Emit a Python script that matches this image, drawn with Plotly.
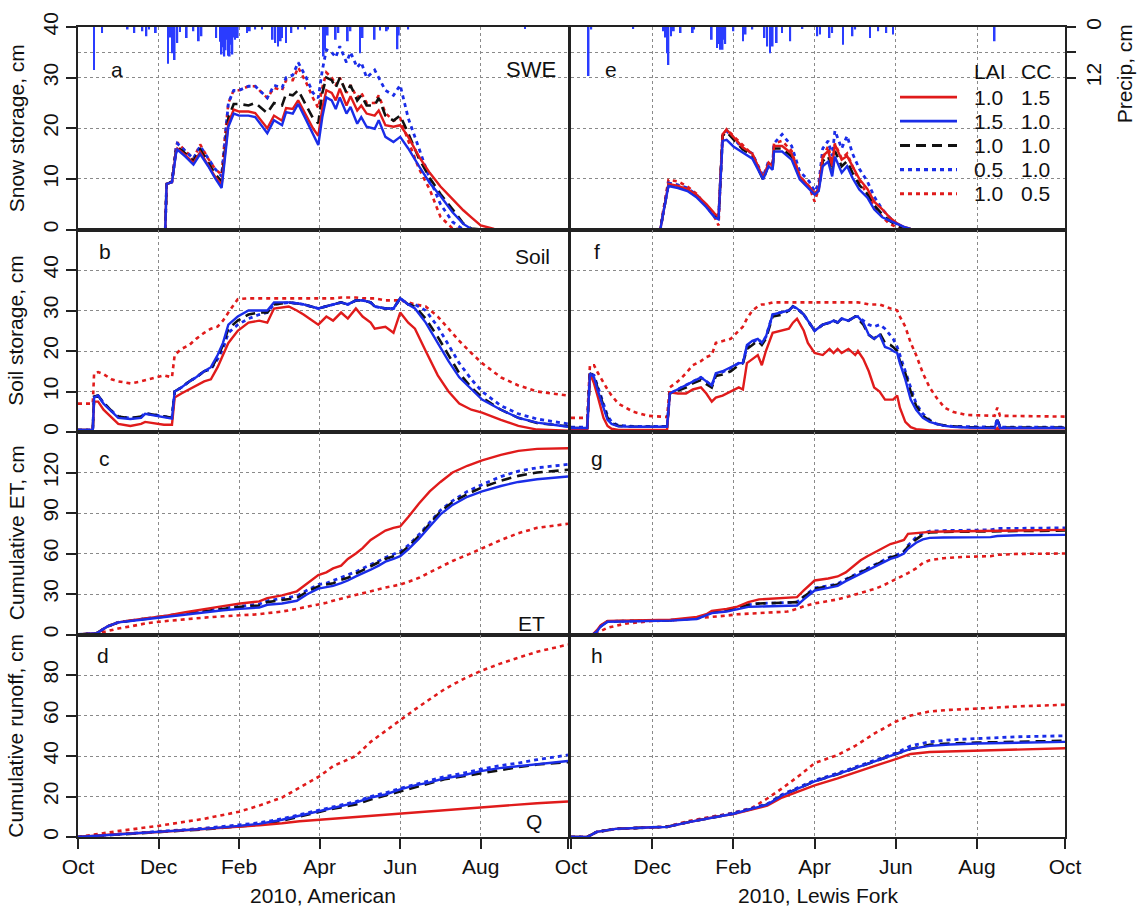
import plotly.graph_objects as go

FONT = "Liberation Sans, Arial, Helvetica, sans-serif"
RED = "#e01b1b"
BLUE = "#1a2de8"
BLACK = "#111111"
PRECIP_BLUE = "#2a3cff"

# x axis: day of water year 2010 (Oct 1 2009 = 0)
month_ticks = [0, 60, 120, 180, 240, 300, 365]
month_labels = ["Oct", "Dec", "Feb", "Apr", "Jun", "Aug", "Oct"]

# scenario parameters (LAI, CC) for each series
series_keys = ["rs", "bs", "bk", "bd", "rd"]
series_lai = ["1.0", "1.5", "1.0", "0.5", "1.0"]
series_cc = ["1.5", "1.0", "1.0", "1.0", "0.5"]

# ---------------- precipitation (cm/day) ----------------
am_precip_day = [12, 18, 37, 42, 48, 51, 53, 58, 67, 69, 70, 72, 74, 76, 81, 86, 90, 92, 103, 106, 107, 108, 109,
                 110, 111, 112, 113, 114, 115, 116, 117, 119, 126, 128, 132, 137, 145, 147, 149, 151, 152, 155, 159,
                 164, 169, 183, 184, 186, 192, 194, 201, 203, 210, 212, 221, 225, 230, 231, 238, 239, 246, 333]
am_precip_cm = [10.2, 1.4, 0.6, 1.4, 1.0, 2.2, 0.6, 1.4, 8.7, 2.5, 6.2, 7.8, 3.8, 1.2, 2.6, 1.0, 3.4, 2.2, 2.6, 3.5,
                6.5, 4.8, 7.0, 5.5, 3.0, 6.8, 7.0, 4.2, 6.5, 2.5, 3.0, 2.6, 1.4, 1.0, 0.6, 0.6, 3.0, 3.8, 4.6, 3.4,
                2.6, 3.8, 1.4, 0.6, 0.6, 7.0, 5.4, 2.0, 3.0, 1.4, 3.4, 1.0, 6.2, 2.6, 3.0, 0.8, 1.0, 0.6, 5.3, 2.0,
                0.6, 0.3]
lf_precip_day = [13, 15, 46, 68, 70, 71, 72, 74, 76, 81, 90, 91, 104, 108, 109, 110, 111, 112, 113, 114, 120, 127,
                 129, 134, 143, 145, 147, 149, 152, 156, 162, 171, 182, 184, 191, 193, 201, 208, 210, 221, 227, 233,
                 238, 313]
lf_precip_cm = [11.6, 0.6, 0.3, 1.0, 2.5, 6.2, 9.0, 2.2, 1.0, 1.4, 1.4, 0.6, 3.0, 5.0, 4.0, 5.4, 4.5, 5.4, 3.0, 4.0,
                1.0, 3.4, 1.8, 0.6, 2.6, 4.6, 6.2, 4.6, 3.8, 1.4, 3.4, 0.3, 2.2, 1.8, 2.6, 1.4, 4.2, 2.2, 0.6, 2.6,
                1.0, 1.4, 1.8, 3.4]

# ---------------- (a) SWE, American ----------------
a_days = [0, 65, 66, 70, 73, 74, 80, 86, 91, 97, 102, 107, 109, 112, 116, 120, 127, 132, 141, 146, 152, 155, 160,
          164, 170, 175, 179, 182, 185, 189, 192, 195, 200, 203, 208, 211, 215, 221, 224, 229, 235, 240, 246, 254,
          262, 270, 279, 287, 293, 300, 310, 365]
a_bs = [0, 0, 9, 9.3, 15, 15.8, 14.4, 12.8, 14.9, 12.5, 10.2, 8.2, 13, 20.3, 22.9, 22.5, 22.5, 22.2, 19, 21.6,
        20.6, 23.2, 22.9, 24.8, 21.6, 19, 16.7, 22.2, 26.1, 25.5, 23.8, 26.1, 22.9, 24.2, 20.9, 22.2, 20.3, 19.9,
        21.6, 18.3, 17.3, 18.3, 16, 12.5, 9.2, 6.6, 3.4, 1.1, 0.1, 0, 0, 0]
a_rs = [0, 0, 9, 9.3, 15.2, 16, 14.7, 13.1, 15.3, 12.8, 10.5, 8.8, 13.5, 21, 23.7, 23.3, 23.3, 23, 20, 22.5,
        21.5, 24, 23.8, 25.5, 22.5, 20, 18.5, 24, 27.5, 27, 25.5, 27.8, 24.5, 26.3, 23.5, 24.5, 22.9, 22.5, 23.5,
        20.6, 20.3, 20.6, 18.3, 14.4, 11.2, 8.5, 6, 3.8, 2.4, 0.8, 0.1, 0]
a_bk = [0, 0, 9, 9.4, 15.5, 16.3, 15, 13.5, 15.8, 13.3, 11, 9.5, 15, 22, 24.8, 24.8, 24.5, 25, 23, 25, 24.5,
        26.8, 26.5, 27.5, 24.5, 22, 21, 27, 30, 29.5, 28, 30, 27, 28.5, 25.5, 26.5, 24.5, 24.5, 26, 22.5, 21.5,
        22.5, 19, 14, 10.2, 7, 4, 1.2, 0.2, 0, 0, 0]
a_bd = [0, 0, 9, 9.5, 16, 17, 15.5, 14, 16.5, 14, 12, 10.5, 17, 25, 27.5, 27.5, 28.3, 28.3, 26, 28.5, 28, 30,
        30.5, 33, 30, 27, 26, 31.5, 35.5, 35, 34, 36.2, 33, 35, 32, 33, 30, 31.5, 30, 27.5, 26.5, 28.5, 22, 16,
        10, 5, 1.5, 0, 0, 0, 0, 0]
a_rd = [0, 0, 9, 9.5, 16.2, 17.2, 15.5, 14, 16.8, 14, 12, 10.8, 17, 25, 27.5, 27.5, 28.3, 28.3, 26, 28, 27.5,
        29.5, 29.5, 32, 29, 26, 24, 28, 31, 30, 28.5, 30, 27, 28.5, 26, 27, 25, 25, 26.5, 23, 21.5, 22, 17.5,
        12, 7.9, 2.5, 0.2, 0, 0, 0, 0, 0]

# ---------------- (e) SWE, Lewis Fork ----------------
e_days = [0, 66, 68, 72, 79, 86, 93, 100, 106, 109, 112, 115, 120, 127, 134, 142, 146, 149, 150, 156, 163, 169,
          176, 180, 183, 186, 190, 193, 195, 200, 204, 208, 213, 219, 224, 230, 235, 241, 246, 251, 260, 365]
e_bs = [0, 0, 3, 8.6, 8.2, 7.6, 6.3, 4.4, 2.4, 2, 17.5, 17.7, 16.4, 15.2, 14, 9.9, 12.5, 11.8, 15.4, 15.4, 13.8,
        9.9, 7.9, 6.9, 7.6, 12.5, 13.4, 10.5, 14.4, 11.2, 12.5, 10.2, 7.9, 6.3, 4, 2.4, 1.8, 1.1, 0.5, 0.1, 0, 0]
e_rs = [0, 0, 3, 9, 8.6, 8, 6.8, 5, 3.2, 2.5, 18.8, 19.7, 18.3, 16.2, 15, 10.2, 13.2, 12.5, 16.5, 16.5, 15, 10.5,
        8.5, 7, 8, 14.5, 15.5, 12.5, 16.8, 13.8, 14.5, 12.5, 10, 8, 5.5, 4, 2.5, 1.2, 0.5, 0.1, 0, 0]
e_bk = [0, 0, 3, 8.8, 8.4, 7.8, 6.5, 4.7, 2.8, 2.2, 18.5, 19.3, 17.8, 15.8, 14.6, 9.8, 12.8, 12.2, 16, 16, 14.4,
        10.2, 8.2, 7, 7.8, 13.5, 14.5, 11.5, 15.5, 12.5, 13.5, 11.2, 8.8, 7, 4.8, 3, 1.8, 0.8, 0.2, 0, 0, 0]
e_bd = [0, 0, 3, 9.2, 8.8, 8.2, 6.8, 4.8, 2.8, 2.2, 18.5, 19.5, 18, 16, 15, 10.5, 13.5, 13, 17, 18.8, 16.5, 11.5,
        9.5, 7.5, 9, 16, 17.5, 14.5, 19.5, 16, 18.5, 15, 12, 9.5, 6.5, 4, 2.5, 1, 0.3, 0, 0, 0]
e_rd = [0, 0, 3.5, 9.8, 9.5, 8.5, 7, 4.5, 2.5, 0.8, 18.5, 19.8, 18.5, 16.5, 14.8, 10, 13, 12.8, 17, 17.5, 15.5,
        10.5, 8.5, 5.5, 8, 14, 16.5, 13, 17, 14, 15, 12.5, 9.5, 7, 4.5, 2.5, 1.2, 0.4, 0, 0, 0, 0]

# ---------------- (b) Soil storage, American ----------------
b_days = [0, 11, 12, 15, 19, 25, 30, 39, 47, 50, 58, 64, 70, 72, 77, 83, 88, 94, 99, 104, 108, 112, 119, 127, 135,
          141, 146, 157, 163, 168, 179, 185, 190, 196, 201, 207, 212, 218, 221, 229, 235, 240, 246, 251, 259, 268,
          276, 284, 293, 301, 315, 328, 342, 365]
b_bs = [0.5, 0.5, 8.5, 9, 7, 5, 3.5, 3.2, 3.5, 4.5, 4, 3.5, 3.3, 10, 11, 12.5, 13.5, 15, 16, 19, 22, 26.5, 28.5,
        30, 30, 30, 32, 32, 31.8, 31.5, 30.5, 31, 31.5, 32, 31.5, 32.5, 32.5, 32, 31, 30.5, 30.5, 33, 31.5, 30.5,
        27, 22, 17.5, 13.5, 10.5, 8, 5.5, 3.5, 2.3, 1.3]
b_rs = [0.5, 0.5, 7.5, 7.5, 5.5, 3.5, 2, 1.5, 2, 2.5, 2, 1.8, 1.8, 8.5, 9.5, 10.5, 11.5, 12.5, 13, 16, 19, 22, 25,
        27, 27.5, 27, 30.5, 31, 30, 29, 26.5, 28.5, 27.5, 29.5, 28, 30.5, 28.5, 27, 25.5, 26, 24.5, 29.5, 27, 25.5,
        20, 14, 10, 7, 5.5, 4.8, 3, 1.5, 0.6, 0.3]
b_bk = [0.5, 0.5, 8.7, 9, 7.2, 5.2, 3.8, 3.4, 3.8, 4.6, 4.2, 3.8, 3.5, 10, 11, 12.5, 13.5, 15, 15.5, 18.5, 21.5,
        25.5, 27.5, 29, 29.5, 29.5, 31.5, 32, 31.8, 31.5, 30.5, 31, 31.5, 32, 31.5, 32.5, 32.5, 32, 31, 30.5, 30.5,
        33, 31.5, 31, 28, 23.5, 19, 14.5, 11, 8.5, 5.5, 3.5, 2.2, 1.4]
b_bd = [0.5, 0.5, 8.7, 9, 7.2, 5.2, 3.8, 3.4, 3.8, 4.6, 4.2, 3.8, 3.5, 10, 11, 12.5, 13.5, 15, 15.5, 18, 20.5,
        24.5, 26.5, 28, 29, 29.5, 31.5, 32, 31.8, 31.5, 30.5, 31, 31.5, 32, 31.5, 32.5, 32.5, 32, 31, 30.5, 30.5,
        33, 31.5, 31.5, 30, 26, 21.5, 17, 13, 10, 6.5, 4.5, 3.2, 2]
b_rd = [7, 7, 14.5, 14.8, 14.3, 13, 12.5, 12, 12.5, 12.8, 13.5, 14, 13.5, 19, 20.5, 21.5, 23, 24.5, 25.5, 26,
        27.5, 29.5, 32.8, 33, 33, 33, 33, 33, 33, 33, 33, 33, 33, 33.2, 33.2, 33.2, 33, 33, 33, 32.5, 32.5, 32.5,
        32, 31.5, 31, 28.5, 25.5, 22.5, 19.5, 17, 13.5, 11.5, 10, 9]

# ---------------- (f) Soil storage, Lewis Fork ----------------
f_days = [0, 12, 14, 17, 20, 24, 27, 30, 35, 46, 57, 71, 73, 79, 85, 90, 96, 100, 104, 107, 112, 118, 124, 127,
          130, 134, 138, 141, 144, 149, 156, 161, 164, 167, 172, 175, 180, 186, 191, 194, 197, 200, 205, 210, 212,
          216, 220, 224, 228, 232, 236, 238, 241, 243, 247, 251, 255, 260, 265, 270, 276, 282, 292, 313, 315, 317,
          365]
f_bs = [1, 1, 14.5, 13.5, 10, 6, 3, 2, 1.4, 1.3, 1.3, 1.3, 9.5, 10.5, 11.5, 12.5, 13.5, 12.5, 11.5, 14.5, 15, 16,
        17, 17, 21.5, 22.5, 23, 22, 23.5, 29, 29.5, 30, 31, 30.5, 29, 27.5, 25, 26.5, 27, 27.5, 27, 28, 27.5, 28.5,
        28.5, 27, 24, 23, 24, 21, 20.5, 20, 19.5, 17, 13, 8, 5.5, 3.5, 2.5, 2, 1.5, 1.3, 1.1, 1, 3, 1, 1]
f_rs = [0.5, 0.5, 14.5, 12, 8.5, 3.5, 1.5, 0.8, 0.5, 0.5, 0.5, 0.5, 9.8, 9.5, 9.5, 10.5, 11, 9.5, 7.5, 8.5, 9, 10,
        11, 10.5, 17, 18, 19, 16.5, 20, 24.5, 25, 25.5, 27, 28, 25, 22, 19.5, 19, 20.5, 19.5, 20.5, 19.5, 20.5, 19,
        20, 18, 15, 11, 10, 8, 8, 8, 9, 6, 2.5, 1.2, 0.7, 0.5, 0.4, 0.4, 0.3, 0.3, 0.3, 0.3, 1, 0.3, 0.3]
f_bk = [1, 1, 14.5, 13.8, 10.5, 6.5, 3.5, 2.2, 1.5, 1.3, 1.3, 1.3, 9.5, 10.2, 11, 12, 12.8, 11.8, 11, 13.8, 14.2,
        15, 16.5, 17, 20.5, 21.5, 22.5, 21.5, 23, 28.5, 29, 30, 31, 30.5, 29, 27.5, 25, 26.5, 27, 27.5, 27, 28,
        27.5, 28.5, 28, 26.5, 24, 23, 24.5, 22, 21.5, 21, 20, 17.5, 14.5, 10, 6.5, 4, 2.8, 2, 1.6, 1.4, 1.2, 1.1, 3,
        1.1, 1.1]
f_bd = [1.2, 1.2, 14.5, 14, 11, 7, 4, 2.5, 1.6, 1.4, 1.4, 1.4, 9.5, 10.5, 11.5, 12.5, 13.5, 12.5, 11.5, 14, 14.8,
        15.8, 17, 17, 21, 22, 23, 22, 23.5, 29, 29.5, 30, 31, 30.5, 29, 27.5, 25, 26.5, 27, 27.5, 27, 28, 27.5,
        28.5, 28.5, 27.5, 26.5, 26, 26.5, 25.5, 24, 23, 21, 19, 15, 11, 7, 4.5, 3, 2, 1.6, 1.4, 1.3, 1.2, 3.2, 1.2,
        1.2]
f_rd = [3.5, 3.5, 16.5, 16.5, 14.5, 12, 10.5, 9, 7, 5, 4, 3.7, 11, 12.5, 14.5, 16.5, 17.5, 18.5, 19, 22, 22.5, 23,
        25, 26, 28, 30, 31, 31.5, 31.5, 32, 32, 32, 32, 32, 32, 32, 32, 32, 32, 32, 32, 32, 32, 32, 32, 31.8, 31.5,
        31.5, 31.5, 31, 30.5, 30.5, 30, 28.5, 26, 22, 19, 14.5, 11, 8.5, 6, 5, 4.2, 4, 6, 4, 3.8]

# ---------------- (c) Cumulative ET, American ----------------
c_days = [0, 14, 22, 30, 39, 52, 66, 80, 94, 108, 121, 135, 141, 152, 163, 171, 179, 185, 190, 196, 201, 207, 212,
          218, 224, 229, 235, 240, 246, 254, 262, 270, 279, 290, 301, 315, 328, 342, 365]
c_rs = [0, 1, 6, 9, 10.5, 12, 14, 16.5, 19, 21, 23, 24.5, 27, 29, 32, 38, 44, 46, 49, 51, 56, 60, 64, 70, 74, 77,
        79, 80, 87, 97, 106, 113, 120, 125, 129, 133, 136, 137.5, 138]
c_bs = [0, 1, 6, 9, 10, 11.5, 13.5, 15, 16.5, 18, 19, 20, 22, 23, 25, 30, 34, 35, 36, 38, 40, 43, 45, 48, 51, 54,
        56, 58, 63, 71, 80, 89, 96, 102, 106, 110, 113, 115, 117]
c_bk = [0, 1, 6, 9, 10.2, 11.8, 13.8, 15.8, 17.5, 19, 20.5, 21.5, 24, 25.5, 27, 32, 35.5, 37, 38, 40.5, 42, 45,
        47.5, 50, 53, 56, 58, 60, 65, 73, 82, 91, 98, 104, 109, 114, 117.5, 120, 122]
c_bd = [0, 1, 6, 9, 10.2, 12, 14, 16, 17.8, 19.5, 21, 22.5, 25, 26.5, 28.5, 33, 37, 38, 40, 42, 44, 46.5, 49,
        51.5, 54.5, 57, 59.5, 61.5, 66, 74, 83, 92, 99, 106, 111, 117, 121, 123.5, 126]
c_rd = [0, 0.5, 2.5, 4.5, 6, 8.5, 10, 11.5, 12.5, 13.5, 14, 15, 15.8, 17, 19, 20.5, 22, 23.5, 25, 26.5, 28, 29.5,
        31, 32.3, 33.5, 34.8, 36, 37, 39, 42, 46, 50, 54.5, 59, 64, 70, 75, 79, 82]

# ---------------- (g) Cumulative ET, Lewis Fork ----------------
g_days = [0, 16, 19, 22, 27, 40, 60, 74, 93, 100, 104, 115, 123, 131, 139, 150, 160, 167, 172, 180, 190, 197, 203,
          208, 214, 219, 225, 230, 236, 241, 246, 249, 255, 260, 265, 275, 290, 310, 315, 330, 365]
g_rs = [0, 0, 3, 7, 10, 10.2, 10.4, 11, 13, 15, 17.5, 19, 20.7, 24, 26, 26.5, 27, 27.7, 32.6, 40, 41.5, 43, 46, 50,
        55, 58, 61, 63.5, 67, 68.4, 70, 74.6, 75.3, 75.8, 76, 76.3, 76.5, 76.7, 77.3, 77.4, 77.5]
g_bs = [0, 0, 2, 6, 9.5, 9.8, 10, 10.3, 11.5, 14, 15.8, 17, 18.5, 20.5, 20.7, 21, 21.2, 21.5, 26, 32.6, 34.5, 36,
        39.5, 42, 44.5, 47, 50, 53, 56, 57.5, 60, 63.5, 68, 70.5, 71.6, 71.9, 72, 72.1, 73, 73.5, 73.8]
g_bk = [0, 0, 2.2, 6.3, 9.7, 10, 10.2, 10.6, 12, 14.5, 16.3, 17.7, 19.5, 22, 23, 23.3, 23.7, 24, 28, 34, 35.5, 37,
        40.5, 43, 45.5, 48, 51, 54, 57, 58.5, 61, 65, 70.5, 74, 75.5, 76, 76.2, 76.3, 76.8, 77, 77]
g_bd = [0, 0, 2.2, 6.3, 9.7, 10, 10.2, 10.6, 12, 14.5, 16.3, 17.7, 19.5, 22, 23, 23.3, 23.7, 24, 28, 34.5, 36,
        37.5, 41, 43.5, 46, 48.5, 51.5, 54.5, 57.5, 59, 61.5, 66, 72, 75, 76.5, 77, 77.3, 77.5, 78.5, 78.8, 79]
g_rd = [0, 0, 1, 2.5, 5, 8, 10, 10.5, 12, 12.5, 13, 14, 15, 15.5, 16, 16.5, 17, 19, 21, 23, 24.5, 26, 27.5, 29,
        30.5, 32, 34, 36, 39, 41, 44, 45.5, 49, 53, 55, 56.5, 57.5, 58, 59, 59.7, 60]

# ---------------- (d) Cumulative runoff, American ----------------
d_days = [0, 25, 60, 94, 120, 135, 152, 165, 180, 190, 207, 218, 229, 240, 251, 262, 273, 287, 300, 314, 328, 342,
          365]
d_rs = [0, 1.2, 2.5, 4, 5, 5.8, 6.8, 7.8, 8.5, 9, 10, 10.6, 11, 11.5, 12.2, 12.8, 13.5, 14, 14.5, 15.3, 16, 16.7,
        17.5]
d_bs = [0, 1, 2.5, 4, 5.5, 6.5, 8.5, 10.5, 13, 14.5, 17, 19.5, 21, 23.5, 25.5, 27, 29, 30.5, 32.5, 34, 35, 36,
        37.5]
d_bk = [0, 1, 2.4, 3.8, 5.2, 6.2, 8, 10, 12.5, 14, 16, 18.5, 20.5, 22.5, 24.5, 26.5, 28.5, 30, 31.5, 33, 34.5,
        35.8, 37]
d_bd = [0, 1.1, 2.7, 4.3, 6, 7, 9, 11, 13.3, 15, 17.5, 20, 21.8, 24, 26, 28, 29.8, 31.5, 33.5, 35.2, 36.5, 38.2,
        40.5]
d_rd = [0, 2.5, 5.5, 9, 12.5, 15.5, 19.5, 24.5, 30, 35, 40, 47, 52.4, 57.5, 63, 68, 73, 78, 82, 85.5, 88.5, 91.5,
        95]

# ---------------- (h) Cumulative runoff, Lewis Fork ----------------
h_days = [0, 12, 19, 27, 33, 60, 71, 88, 107, 120, 134, 145, 156, 170, 180, 197, 210, 224, 240, 251, 265, 280, 300,
          330, 365]
h_rs = [0, 0, 2.5, 3.5, 4, 4.8, 5, 7.5, 10, 11.3, 13.5, 15.5, 19.5, 23, 25.5, 29, 32, 35, 38.5, 41, 42, 42.3, 42.6,
        43.2, 43.8]
h_bs = [0, 0, 2.5, 3.5, 4, 4.8, 5, 7.5, 10, 11.5, 14, 16, 20.5, 24.5, 27.5, 31, 34, 37, 41, 43.5, 45, 45.7, 46.2,
        46.6, 47]
h_bk = [0, 0, 2.5, 3.5, 4, 4.8, 5, 7.5, 10, 11.5, 14, 16, 20.5, 24.5, 27.5, 31, 34, 37, 41, 43.5, 45.5, 46.2, 46.6,
        47, 47.5]
h_bd = [0, 0, 2.5, 3.5, 4, 4.8, 5, 7.6, 10.2, 11.8, 14.3, 16.3, 21, 25, 28, 31.5, 34.5, 37.5, 41.5, 45, 47, 48,
        48.7, 49.5, 50]
h_rd = [0, 0, 2.5, 3.5, 4, 4.8, 5.2, 8, 10.5, 12, 14.5, 19, 24, 31, 36.5, 40.5, 45, 51, 57, 60, 62, 62.8, 63.4,
        64.5, 65.3]

# ---------------- figure assembly ----------------
styles = {
    "rs": dict(color=RED, dash="solid", width=2.4),
    "bs": dict(color=BLUE, dash="solid", width=2.4),
    "bk": dict(color=BLACK, dash="10px,6px", width=2.6),
    "bd": dict(color=BLUE, dash="4px,4px", width=2.8),
    "rd": dict(color=RED, dash="4px,4px", width=2.6),
}
draw_order = ["rd", "bd", "bk", "rs", "bs"]

panels = [
    (1, a_days, {"rs": a_rs, "bs": a_bs, "bk": a_bk, "bd": a_bd, "rd": a_rd}),
    (2, b_days, {"rs": b_rs, "bs": b_bs, "bk": b_bk, "bd": b_bd, "rd": b_rd}),
    (3, c_days, {"rs": c_rs, "bs": c_bs, "bk": c_bk, "bd": c_bd, "rd": c_rd}),
    (4, d_days, {"rs": d_rs, "bs": d_bs, "bk": d_bk, "bd": d_bd, "rd": d_rd}),
    (5, e_days, {"rs": e_rs, "bs": e_bs, "bk": e_bk, "bd": e_bd, "rd": e_rd}),
    (6, f_days, {"rs": f_rs, "bs": f_bs, "bk": f_bk, "bd": f_bd, "rd": f_rd}),
    (7, g_days, {"rs": g_rs, "bs": g_bs, "bk": g_bk, "bd": g_bd, "rd": g_rd}),
    (8, h_days, {"rs": h_rs, "bs": h_bs, "bk": h_bk, "bd": h_bd, "rd": h_rd}),
]

y_ranges = [[0, 40], [0, 50], [0, 150], [0, 100]]
y_ticks = [[0, 10, 20, 30, 40], [0, 10, 20, 30, 40], [0, 30, 60, 90, 120], [0, 20, 40, 60, 80]]
y_titles = ["Snow storage, cm", "Soil storage, cm", "Cumulative ET, cm", "Cumulative runoff, cm"]

W, H = 1137, 911
ML, MR, MT, MB = 78, 72, 16, 74
PW, PH = W - ML - MR, H - MT - MB
x_doms = [[0, 490 / PW], [493 / PW, 1.0]]

fig = go.Figure()

for k, days, ser in panels:
    xa = "x" if k == 1 else f"x{k}"
    ya = "y" if k == 1 else f"y{k}"
    for key in draw_order:
        st = styles[key]
        i = series_keys.index(key)
        fig.add_trace(go.Scatter(
            x=days, y=ser[key], mode="lines", xaxis=xa, yaxis=ya,
            line=dict(color=st["color"], dash=st["dash"], width=st["width"]),
            name=f"LAI {series_lai[i]}, CC {series_cc[i]}", showlegend=False, hoverinfo="skip"))

# precipitation bars hanging from the top of the SWE panels
fig.add_trace(go.Bar(x=am_precip_day, y=am_precip_cm, width=1.3, xaxis="x", yaxis="y9",
                     marker=dict(color=PRECIP_BLUE, line=dict(width=0)), showlegend=False, hoverinfo="skip"))
fig.add_trace(go.Bar(x=lf_precip_day, y=lf_precip_cm, width=1.3, xaxis="x5", yaxis="y10",
                     marker=dict(color=PRECIP_BLUE, line=dict(width=0)), showlegend=False, hoverinfo="skip"))

layout = dict(
    width=W, height=H, margin=dict(l=ML, r=MR, t=MT, b=MB),
    paper_bgcolor="white", plot_bgcolor="white",
    font=dict(family=FONT, size=21, color="#111"),
    showlegend=False, barmode="overlay",
)

grid = dict(showgrid=True, gridcolor="#8a8a8a", gridwidth=1.3, griddash="dot")
for k in range(1, 9):
    col = (k - 1) // 4
    row = (k - 1) % 4
    xname = "xaxis" if k == 1 else f"xaxis{k}"
    yname = "yaxis" if k == 1 else f"yaxis{k}"
    yd = [1 - (row + 1) / 4, 1 - row / 4]
    bottom = row == 3
    # the left column's closing "Oct" coincides with the right column's opening "Oct"
    labels = month_labels[:-1] + [""] if col == 0 else month_labels
    layout[xname] = dict(
        domain=x_doms[col], anchor="y" if k == 1 else f"y{k}", range=[0, 365],
        tickmode="array", tickvals=month_ticks, ticktext=labels,
        showticklabels=bottom, ticks="outside" if bottom else "", ticklen=10, tickwidth=1.6,
        tickcolor="#222", showline=True, mirror=True, linecolor="#222", linewidth=2,
        zeroline=False, **grid)
    layout[yname] = dict(
        domain=yd, anchor="x" if k == 1 else f"x{k}", range=y_ranges[row],
        tickmode="array", tickvals=y_ticks[row], showticklabels=(col == 0),
        ticks="outside" if col == 0 else "", ticklen=10, tickwidth=1.6, tickcolor="#222",
        tickangle=-90, showline=True, mirror=True, linecolor="#222", linewidth=2,
        zeroline=False, **grid)

# precipitation axes (reversed, 0 at top)
layout["yaxis9"] = dict(overlaying="y", anchor="x", side="right", range=[48, 0],
                        tickmode="array", tickvals=[0, 6, 12], showticklabels=False, ticks="",
                        showline=False, zeroline=False, **grid)
layout["yaxis10"] = dict(overlaying="y5", anchor="x5", side="right", range=[48, 0],
                         tickmode="array", tickvals=[0, 6, 12], ticktext=["0", "", "12"],
                         showticklabels=True, ticks="outside", ticklen=10, tickwidth=1.6,
                         tickcolor="#222", tickangle=-90, showline=False, zeroline=False, **grid)
fig.update_layout(**layout)

ann = []
shapes = []


def dom_text(k, x, y, text, xanchor="center", size=21):
    xr = "x domain" if k == 1 else f"x{k} domain"
    yr = "y domain" if k == 1 else f"y{k} domain"
    ann.append(dict(xref=xr, yref=yr, x=x, y=y, text=text, showarrow=False,
                    xanchor=xanchor, yanchor="middle", font=dict(size=size)))


def px_x(p):
    return (p - ML) / PW


def px_y(p):
    return (H - MB - p) / PH


letters = [(1, "a", 0.079, 0.79), (2, "b", 0.055, 0.89), (3, "c", 0.055, 0.87), (4, "d", 0.052, 0.895),
           (5, "e", 0.081, 0.79), (6, "f", 0.053, 0.89), (7, "g", 0.053, 0.87), (8, "h", 0.053, 0.895)]
for k, t, x, y in letters:
    dom_text(k, x, y, t)
dom_text(1, 0.98, 0.79, "SWE", "right", 22)
dom_text(2, 0.968, 0.866, "Soil", "right")
dom_text(3, 0.957, 0.056, "ET", "right")
dom_text(4, 0.95, 0.078, "Q", "right")

for row, t in enumerate(y_titles):
    ann.append(dict(xref="paper", yref="paper", x=px_x(16), y=1 - (row + 0.5) / 4, text=t,
                    textangle=-90, showarrow=False, xanchor="center", yanchor="middle"))
ann.append(dict(xref="paper", yref="paper", x=px_x(323), y=px_y(896), text="2010, American",
                showarrow=False, xanchor="center", yanchor="middle"))
ann.append(dict(xref="paper", yref="paper", x=px_x(818), y=px_y(896), text="2010, Lewis Fork",
                showarrow=False, xanchor="center", yanchor="middle"))
ann.append(dict(xref="paper", yref="paper", x=px_x(1124), y=px_y(64), text="Precip, cm",
                textangle=-90, showarrow=False, xanchor="center", yanchor="middle"))

# legend drawn as a key table: LAI / CC columns
LEG_X0, LEG_X1, COL1, COL2 = 900, 957, 972, 1019
HEAD_Y, LEG_ROW0, LEG_STEP = 61, 87, 24.5
ann.append(dict(xref="paper", yref="paper", x=px_x(COL1), y=px_y(HEAD_Y), text="LAI",
                showarrow=False, xanchor="left", yanchor="middle", font=dict(size=21)))
ann.append(dict(xref="paper", yref="paper", x=px_x(COL2), y=px_y(HEAD_Y), text="CC",
                showarrow=False, xanchor="left", yanchor="middle", font=dict(size=21)))
for i, key in enumerate(series_keys):
    yy = px_y(LEG_ROW0 + i * LEG_STEP)
    st = styles[key]
    shapes.append(dict(type="line", xref="paper", yref="paper", x0=px_x(LEG_X0), x1=px_x(LEG_X1), y0=yy, y1=yy,
                       line=dict(color=st["color"], dash=st["dash"], width=st["width"] + 0.4)))
    ann.append(dict(xref="paper", yref="paper", x=px_x(COL1), y=yy, text=series_lai[i], showarrow=False,
                    xanchor="left", yanchor="middle", font=dict(size=21)))
    ann.append(dict(xref="paper", yref="paper", x=px_x(COL2), y=yy, text=series_cc[i], showarrow=False,
                    xanchor="left", yanchor="middle", font=dict(size=21)))

fig.update_layout(annotations=ann, shapes=shapes)

fig.write_html("out.html")
